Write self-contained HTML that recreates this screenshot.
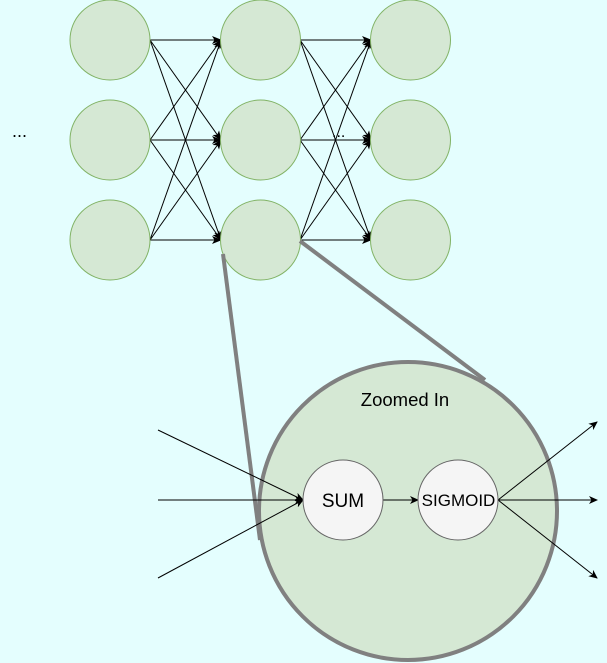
<!DOCTYPE html>
<html><head><style>html,body{margin:0;padding:0;background:#e4fefe;}svg{display:block}</style></head>
<body>
<svg width="607" height="663" viewBox="0 0 607 663" xmlns="http://www.w3.org/2000/svg">
<defs>
<marker id="a" markerWidth="10" markerHeight="8" refX="9" refY="4" orient="auto" markerUnits="userSpaceOnUse">
<path d="M0,0 L10,4 L0,8 L2.5,4 Z" fill="#000"/></marker>
<marker id="b" markerWidth="9" markerHeight="8" refX="8" refY="4" orient="auto" markerUnits="userSpaceOnUse">
<path d="M0,0 L9,4 L0,8 L2.5,4 Z" fill="#000"/></marker>
</defs>
<rect width="607" height="663" fill="#e4fefe"/>
<g stroke="#000" stroke-width="1" fill="none" marker-end="url(#a)">
<line x1="150" y1="40" x2="221" y2="40"/><line x1="150" y1="40" x2="221" y2="140"/><line x1="150" y1="40" x2="221" y2="240"/>
<line x1="150" y1="140" x2="221" y2="40"/><line x1="150" y1="140" x2="221" y2="140"/><line x1="150" y1="140" x2="221" y2="240"/>
<line x1="150" y1="240" x2="221" y2="40"/><line x1="150" y1="240" x2="221" y2="140"/><line x1="150" y1="240" x2="221" y2="240"/>
<line x1="300" y1="40" x2="371" y2="40"/><line x1="300" y1="40" x2="371" y2="140"/><line x1="300" y1="40" x2="371" y2="240"/>
<line x1="300" y1="140" x2="371" y2="40"/><line x1="300" y1="140" x2="371" y2="140"/><line x1="300" y1="140" x2="371" y2="240"/>
<line x1="300" y1="240" x2="371" y2="40"/><line x1="300" y1="240" x2="371" y2="140"/><line x1="300" y1="240" x2="371" y2="240"/>
</g>
<g fill="#d5e8d4" stroke="#82b366" stroke-width="1">
<circle cx="110" cy="40" r="40"/><circle cx="110" cy="140" r="40"/><circle cx="110" cy="240" r="40"/>
<circle cx="260.5" cy="40" r="40"/><circle cx="260.5" cy="140" r="40"/><circle cx="260.5" cy="240" r="40"/>
<circle cx="410.5" cy="40" r="40"/><circle cx="410.5" cy="140" r="40"/><circle cx="410.5" cy="240" r="40"/>
</g>
<text x="12" y="137" font-family="Liberation Sans, sans-serif" font-size="18" fill="#000">...</text>
<text x="332" y="137" font-family="Liberation Sans, sans-serif" font-size="16" fill="#000">...</text>
<circle cx="408" cy="511" r="149" fill="#d5e8d4" stroke="#808080" stroke-width="4"/>
<g stroke="#808080" stroke-width="4" fill="none">
<line x1="223" y1="254" x2="260" y2="540"/>
<line x1="300" y1="241" x2="485" y2="380"/>
</g>
<text x="405" y="406" text-anchor="middle" font-family="Liberation Sans, sans-serif" font-size="18.5" fill="#000">Zoomed In</text>
<g stroke="#000" stroke-width="1" fill="none" marker-end="url(#b)">
<line x1="158" y1="430" x2="303" y2="500"/>
<line x1="158" y1="500" x2="303" y2="500"/>
<line x1="158" y1="578" x2="303" y2="500"/>
<line x1="383" y1="500" x2="418" y2="500"/>
<line x1="498" y1="500" x2="597" y2="422"/>
<line x1="498" y1="500" x2="597" y2="500"/>
<line x1="498" y1="500" x2="597" y2="578"/>
</g>
<g fill="#f5f5f5" stroke="#666" stroke-width="1">
<circle cx="343" cy="500" r="40"/><circle cx="458" cy="500" r="40"/>
</g>
<text x="343" y="507" text-anchor="middle" font-family="Liberation Sans, sans-serif" font-size="19" fill="#000">SUM</text>
<text x="458.5" y="506" text-anchor="middle" font-family="Liberation Sans, sans-serif" font-size="17" fill="#000">SIGMOID</text>
</svg>
</body></html>
